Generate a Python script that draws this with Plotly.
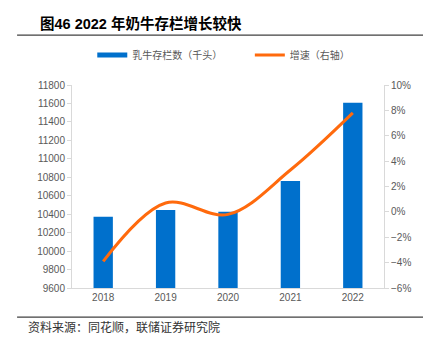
import plotly.graph_objects as go

years = ["2018", "2019", "2020", "2021", "2022"]
herd = [10373, 10445, 10427, 10760, 11608]
growth = [-3.9, 0.7, -0.2, 3.3, 7.8]
left_ticks = list(range(9600, 11801, 200))
right_ticks = list(range(-6, 11, 2))

FONT = "Noto Sans CJK SC"
TITLE_FONT = "Liberation Sans, Noto Sans CJK SC, sans-serif"
TICK = dict(family="Liberation Sans, Arial", size=10, color="#595959")
BLUE = "#0070CC"
ORANGE = "#FF6A0D"

fig = go.Figure()
fig.add_trace(go.Bar(x=years, y=herd, name="乳牛存栏数（千头）", showlegend=False,
                     marker=dict(color=BLUE, line=dict(width=0)),
                     width=0.31, yaxis="y"))
# legend-only entry so the key is drawn as a thick bar like the original
fig.add_trace(go.Scatter(x=[None], y=[None], name="乳牛存栏数（千头）", mode="lines",
                         line=dict(color=BLUE, width=5), legend="legend"))
fig.add_trace(go.Scatter(x=years, y=growth, name="增速（右轴）", mode="lines",
                         line=dict(color=ORANGE, width=3, shape="spline", smoothing=1.0),
                         yaxis="y2", legend="legend2"))

LEG = dict(orientation="h", yanchor="middle", xanchor="left",
           font=dict(family=FONT, size=10, color="#595959"),
           itemwidth=30, bgcolor="rgba(0,0,0,0)", tracegroupgap=0)
fig.update_layout(
    width=439, height=341,
    margin=dict(l=72, r=55, t=85, b=53),
    paper_bgcolor="white", plot_bgcolor="white",
    font=dict(family=FONT, size=10, color="#595959"),
    showlegend=True,
    legend=dict(LEG, x=0.065, y=1.148),
    legend2=dict(LEG, x=0.57, y=1.148),
    xaxis=dict(showline=True, linecolor="#D9D9D9", linewidth=1, ticks="",
               tickfont=TICK, range=[-0.5, 4.5], showgrid=False),
    yaxis=dict(range=[9600, 11800], tickvals=left_ticks,
               ticktext=[str(v) for v in left_ticks], showgrid=False,
               showline=True, linecolor="#D9D9D9", ticks="outside", ticklen=4,
               tickcolor="#D9D9D9", tickfont=TICK, zeroline=False),
    yaxis2=dict(range=[-6, 10], tickvals=right_ticks,
                ticktext=[("−" if v < 0 else "") + f"{abs(v)}%" for v in right_ticks],
                overlaying="y", side="right", showgrid=False, showline=True,
                linecolor="#D9D9D9", ticks="outside", ticklen=4, tickcolor="#D9D9D9",
                tickfont=TICK, zeroline=False),
)

fig.add_annotation(text="<b>图46 2022 年奶牛存栏增长较快</b>", xref="paper", yref="paper",
                   x=-0.11, y=1.303, xanchor="left", yanchor="middle", showarrow=False,
                   font=dict(family=TITLE_FONT, size=14.5, color="#000000"))
fig.add_annotation(text="资料来源：同花顺，联储证券研究院", xref="paper", yref="paper",
                   x=-0.146, y=-0.192, xanchor="left", yanchor="middle", showarrow=False,
                   font=dict(family=FONT, size=12, color="#333333"))
fig.add_shape(type="line", xref="paper", yref="paper", x0=-0.176, x1=1.125, y0=1.246, y1=1.246,
              line=dict(color="#404040", width=1.2))
fig.add_shape(type="line", xref="paper", yref="paper", x0=-0.176, x1=1.125, y0=-0.143, y1=-0.143,
              line=dict(color="#404040", width=1.2))

fig.write_html("out.html")
